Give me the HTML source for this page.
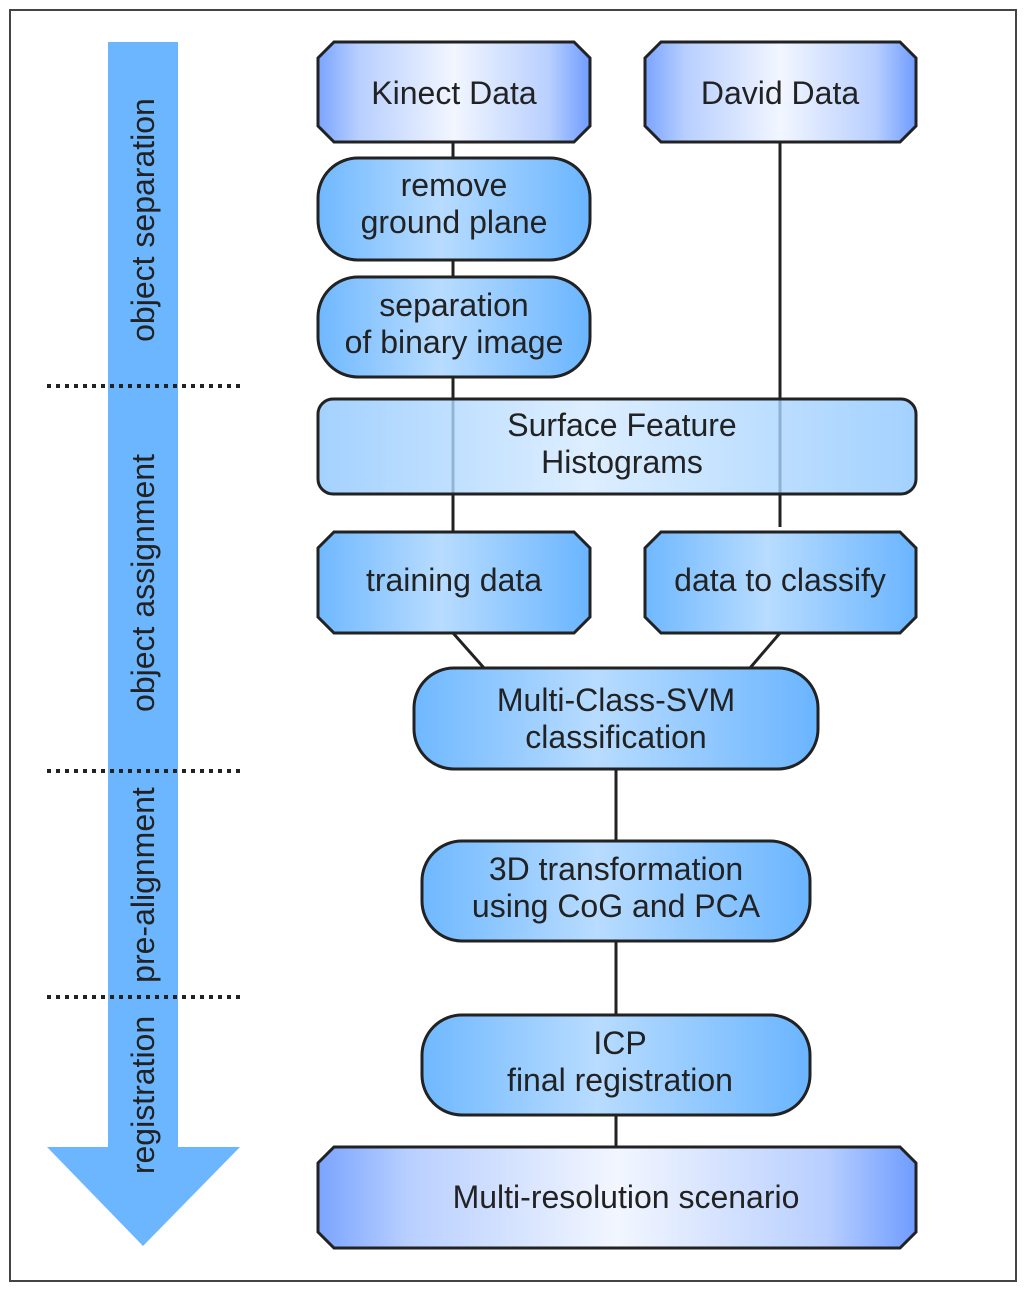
<!DOCTYPE html>
<html><head><meta charset="utf-8"><style>body{margin:0;background:#fff}svg{display:block}</style></head><body>
<svg width="1024" height="1291" viewBox="0 0 1024 1291" xmlns="http://www.w3.org/2000/svg" font-family="Liberation Sans, sans-serif">
<defs>
<linearGradient id="octh" x1="0" x2="1"><stop offset="0" stop-color="#7aa4ff"/><stop offset="0.15" stop-color="#b8cfff"/><stop offset="0.5" stop-color="#f2f6ff"/><stop offset="0.85" stop-color="#b8cfff"/><stop offset="1" stop-color="#6f9cff"/></linearGradient>
<linearGradient id="bl" x1="0" x2="1"><stop offset="0" stop-color="#6fb8ff"/><stop offset="0.45" stop-color="#b8dcff"/><stop offset="1" stop-color="#6ab5ff"/></linearGradient>
<linearGradient id="sf" x1="0" x2="1"><stop offset="0" stop-color="#8cc6ff"/><stop offset="0.45" stop-color="#d4eaff"/><stop offset="1" stop-color="#8cc6ff"/></linearGradient>
</defs>
<rect x="10" y="10" width="1006" height="1271" fill="#fff" stroke="#444" stroke-width="2"/>
<rect x="108" y="42" width="70" height="1106" fill="#6bb6ff"/>
<polygon points="47,1147 240,1147 143,1246" fill="#6bb6ff"/>
<g stroke="#222" stroke-width="4" stroke-dasharray="4,5">
<line x1="47" y1="386" x2="240" y2="386"/><line x1="47" y1="771" x2="240" y2="771"/><line x1="47" y1="997" x2="240" y2="997"/></g>
<g font-size="32" fill="#222" text-anchor="middle">
<text transform="translate(154,220) rotate(-90)">object separation</text>
<text transform="translate(154,583) rotate(-90)">object assignment</text>
<text transform="translate(154,885) rotate(-90)">pre-alignment</text>
<text transform="translate(154,1095) rotate(-90)">registration</text>
</g>
<g stroke="#222" stroke-width="3" fill="none">
<line x1="453" y1="142" x2="453" y2="532"/><line x1="780" y1="142" x2="780" y2="527"/>
<line x1="453" y1="633" x2="484" y2="668"/><line x1="780" y1="633" x2="750" y2="668"/>
<line x1="616" y1="769" x2="616" y2="841"/><line x1="616" y1="941" x2="616" y2="1015"/><line x1="616" y1="1115" x2="616" y2="1147"/>
</g>
<g stroke="#222" stroke-width="3">
<polygon points="334,42 574,42 590,58 590,126 574,142 334,142 318,126 318,58" fill="url(#octh)"/>
<polygon points="661,42 900,42 916,58 916,126 900,142 661,142 645,126 645,58" fill="url(#octh)"/>
<rect x="318" y="158" width="272" height="102" rx="40" fill="url(#bl)"/>
<rect x="318" y="277" width="272" height="100" rx="40" fill="url(#bl)"/>
<rect x="318" y="399" width="598" height="95" rx="15" fill="url(#sf)" fill-opacity="0.8"/>
<polygon points="334,532 574,532 590,548 590,617 574,633 334,633 318,617 318,548" fill="url(#bl)"/>
<polygon points="661,532 900,532 916,548 916,617 900,633 661,633 645,617 645,548" fill="url(#bl)"/>
<rect x="414" y="668" width="404" height="101" rx="40" fill="url(#bl)"/>
<rect x="422" y="841" width="388" height="100" rx="40" fill="url(#bl)"/>
<rect x="422" y="1015" width="388" height="100" rx="40" fill="url(#bl)"/>
<polygon points="334,1147 900,1147 916,1163 916,1232 900,1248 334,1248 318,1232 318,1163" fill="url(#octh)"/>
</g>
<g font-size="32" fill="#222" text-anchor="middle">
<text x="454" y="104">Kinect Data</text>
<text x="780" y="104">David Data</text>
<text x="454" y="196">remove</text><text x="454" y="233">ground plane</text>
<text x="454" y="316">separation</text><text x="454" y="353">of binary image</text>
<text x="622" y="436">Surface Feature</text><text x="622" y="473">Histograms</text>
<text x="454" y="591">training data</text>
<text x="780" y="591">data to classify</text>
<text x="616" y="711">Multi-Class-SVM</text><text x="616" y="748">classification</text>
<text x="616" y="880">3D transformation</text><text x="616" y="917">using CoG and PCA</text>
<text x="620" y="1054">ICP</text><text x="620" y="1091">final registration</text>
<text x="626" y="1208">Multi-resolution scenario</text>
</g>
</svg>
</body></html>
